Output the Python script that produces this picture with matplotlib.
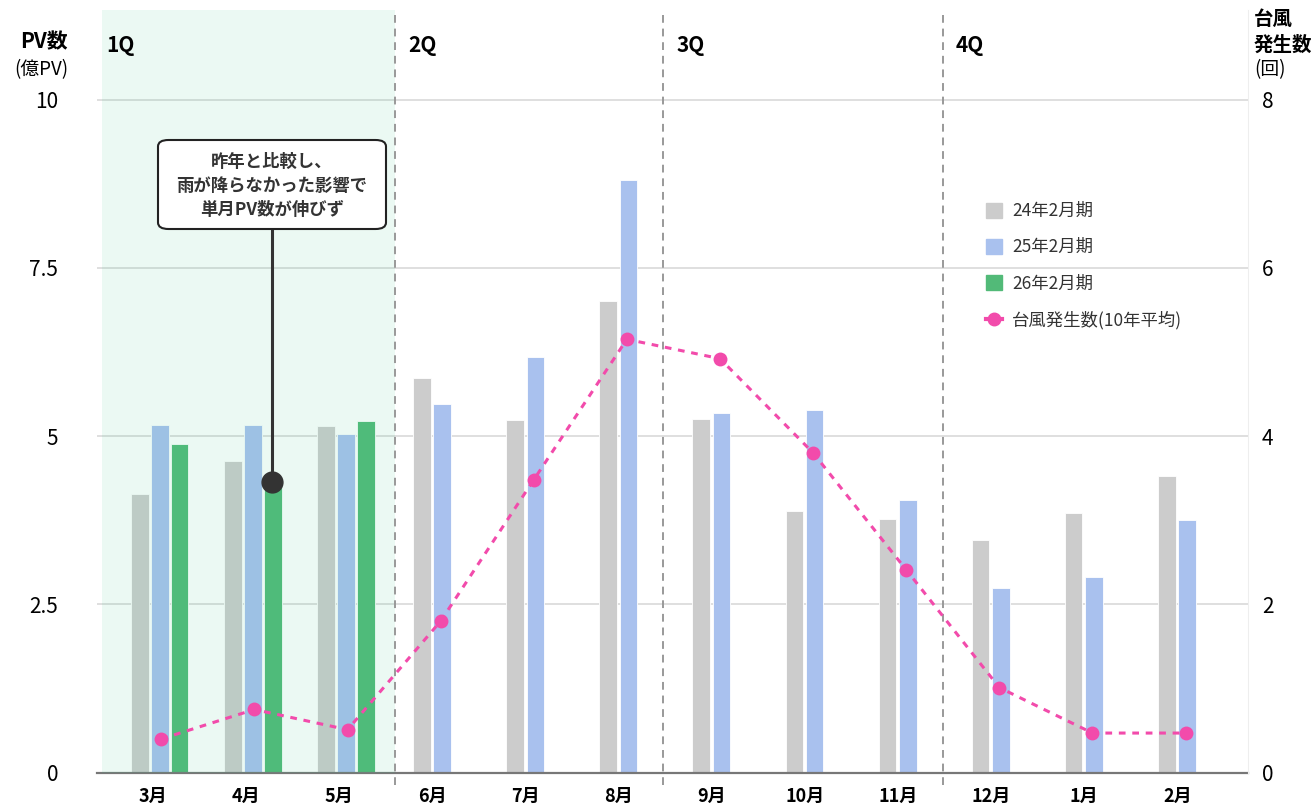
import numpy as np
import matplotlib.pyplot as plt
from matplotlib.patches import Patch, FancyBboxPatch
from matplotlib.lines import Line2D

plt.rcParams['font.family'] = ['Noto Sans CJK JP', 'DejaVu Sans']

months = ['3月', '4月', '5月', '6月', '7月', '8月', '9月', '10月', '11月', '12月', '1月', '2月']
pv_24 = [4.14, 4.63, 5.15, 5.86, 5.24, 7.01, 5.25, 3.88, 3.77, 3.46, 3.85, 4.41]
pv_25 = [5.16, 5.16, 5.03, 5.47, 6.18, 8.80, 5.34, 5.38, 4.05, 2.74, 2.90, 3.76]
pv_26 = [4.88, 4.38, 5.22]
typhoon = [0.40, 0.75, 0.51, 1.80, 3.48, 5.15, 4.92, 3.80, 2.41, 1.01, 0.47, 0.47]
quarters = ['1Q', '2Q', '3Q', '4Q']
q_edges = [-0.6, 2.6, 5.48, 8.48]

c_grey = '#cccccc'
c_blue = '#a9c1ee'
c_green = '#52ba78'
c_pink = '#f24bab'

fig = plt.figure(figsize=(13.15, 8.07), dpi=100)
ax = fig.add_axes([97/1315, 1-772.6/807, (1248-97)/1315, (772.6-10)/807])
ax2 = ax.twinx()

ymax = 11.33
ax.set_xlim(-0.6, 11.76)
ax.set_ylim(0, ymax)
ax2.set_ylim(0, ymax*0.8)

x = np.arange(len(months))
w = 0.187
n3 = len(pv_26)
off_grey = np.where(x < n3, -0.139, -0.112)
off_blue = np.where(x < n3, 0.075, 0.107)
ax.bar(x + off_grey, pv_24, w, color=c_grey, edgecolor='white', linewidth=0.6, zorder=2)
ax.bar(x + off_blue, pv_25, w, color=c_blue, edgecolor='white', linewidth=0.6, zorder=2)
ax.bar(x[:n3] + 0.289, pv_26, w, color=c_green, edgecolor='white', linewidth=0.6, zorder=2)

# 1Q tint
ax.axvspan(-0.55, q_edges[1], color='#3cc88c', alpha=0.1, lw=0, zorder=3)

# grid
for v in [2.5, 5, 7.5, 10]:
    ax.axhline(v, color='#d9d9d9', lw=1.2, zorder=1)

# quarter separators
for xe in q_edges[1:]:
    ax.plot([xe, xe], [-0.18, ymax], color='#999999', lw=1.4, ls=(0, (4, 3)),
            clip_on=False, zorder=4)
for i, q in enumerate(quarters):
    xs = q_edges[i] + (0.1 if i == 0 else 0.14)
    ax.text(xs, 10.8, q, fontsize=15, fontweight='bold', ha='left', va='center', zorder=6)

# typhoon line
ax2.plot(x + 0.09, typhoon, color=c_pink, lw=2.2, ls=(0, (2.2, 2.2)),
         marker='o', markersize=10, markeredgewidth=0, zorder=5)

# axes styling
for s in ['top', 'left']:
    ax.spines[s].set_visible(False)
    ax2.spines[s].set_visible(False)
ax.spines['right'].set_visible(False)
ax2.spines['right'].set_color('#eeeeee')
ax2.spines['bottom'].set_visible(False)
ax.spines['bottom'].set_color('#777777')
ax.spines['bottom'].set_linewidth(1.6)

ax.set_xticks(x)
ax.set_xticklabels(months, fontsize=13, fontweight='bold')
ax.tick_params(axis='x', length=0, pad=10)
ax.set_yticks([0, 2.5, 5, 7.5, 10])
ax.set_yticklabels(['0', '2.5', '5', '7.5', '10'], fontsize=15)
ax.tick_params(axis='y', length=0, pad=28)
ax2.set_yticks([0, 2, 4, 6, 8])
ax2.set_yticklabels(['0', '2', '4', '6', '8'], fontsize=15)
ax2.tick_params(axis='y', length=0, pad=10)

# axis titles
fig.text(68/1315, 1-42/807, 'PV数', fontsize=15, fontweight='bold', ha='right', va='center')
fig.text(68/1315, 1-70/807, '(億PV)', fontsize=13.5, ha='right', va='center')
fig.text(1254/1315, 1-19/807, '台風', fontsize=14, fontweight='bold', ha='left', va='center')
fig.text(1254/1315, 1-45/807, '発生数', fontsize=14, fontweight='bold', ha='left', va='center')
fig.text(1254/1315, 1-70/807, '(回)', fontsize=13.5, ha='left', va='center')

# annotation
box = FancyBboxPatch((158/1315, 1-229/807), 228/1315, 89/807,
                     boxstyle='round,pad=0,rounding_size=0.008',
                     transform=fig.transFigure, facecolor='white',
                     edgecolor='#222222', lw=1.5, zorder=10)
fig.patches.append(box)
fig.text(272/1315, 1-186/807, '昨年と比較し、\n雨が降らなかった影響で\n単月PV数が伸びず',
         fontsize=12.5, fontweight='bold', color='#333333', ha='center', va='center',
         linespacing=1.4, zorder=11)
ax2.add_line(Line2D([272/1315]*2, [1-229/807, 1-482/807],
                    transform=fig.transFigure, color='#333333', lw=2.2, zorder=9))
ax2.plot([272/1315], [1-482/807], 'o', color='#333333', markersize=15,
         transform=fig.transFigure, zorder=9)

# legend
handles = [Patch(color=c_grey, label='24年2月期'),
           Patch(color=c_blue, label='25年2月期'),
           Patch(color=c_green, label='26年2月期'),
           Line2D([], [], color=c_pink, lw=3, marker='o', markersize=9, label='台風発生数(10年平均)')]
fig.legend(handles=handles, loc='upper left', bbox_to_anchor=(986/1315, 1-202/807),
           bbox_transform=fig.transFigure, frameon=False, fontsize=12.5,
           borderpad=0, borderaxespad=0, labelspacing=1.05, handlelength=0.95,
           handleheight=0.95, handletextpad=0.55, labelcolor='#333333')

fig.savefig('out.png', dpi=100)
